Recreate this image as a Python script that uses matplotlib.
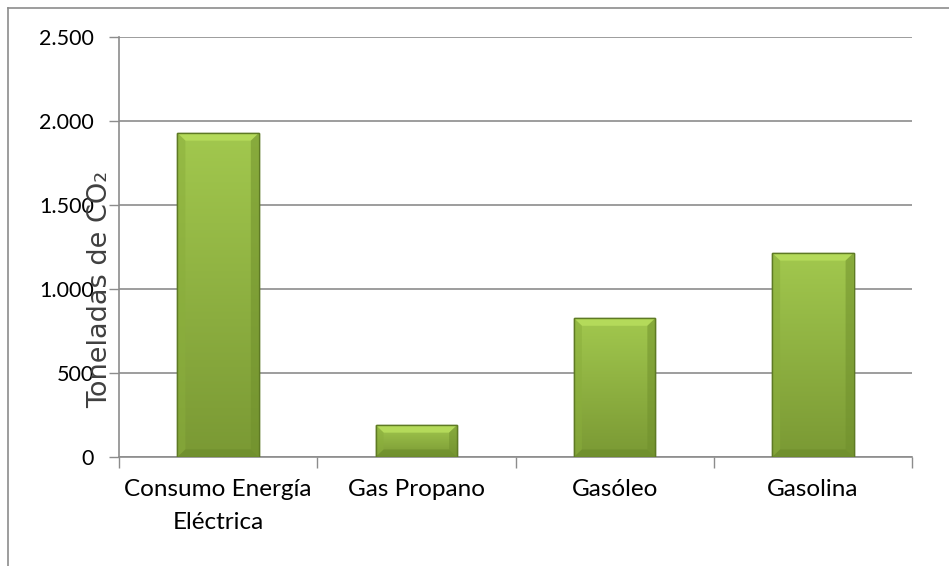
import matplotlib as mpl
mpl.use('Agg')
import matplotlib.pyplot as plt
import numpy as np
from matplotlib.patches import Polygon
from matplotlib.lines import Line2D

# datos
categorias = ['Consumo Energía\nEléctrica', 'Gas Propano', 'Gasóleo', 'Gasolina']
toneladas = [1928, 190, 826, 1214]
yticks = [0, 500, 1000, 1500, 2000, 2500]
ytick_labels = ['0', '500', '1.000', '1.500', '2.000', '2.500']

plt.rcParams['font.family'] = ['Lato', 'DejaVu Sans']

fig = plt.figure(figsize=(9.49, 5.66), dpi=100)
ax = fig.add_axes([119 / 949, 1 - 457 / 566, (912 - 119) / 949, (457 - 37) / 566])

x = np.arange(len(categorias))
ancho = 0.41
bars = ax.bar(x, toneladas, width=ancho, color='#93b944', edgecolor='#5e7a24',
              linewidth=1.0, zorder=3)

# degradado + bisel de cada barra
grad = np.linspace(0, 1, 256).reshape(-1, 1)
cmap = mpl.colors.LinearSegmentedColormap.from_list('verde', ['#7a9934', '#a2c84e'])
bev_y = 45
bev_x = 0.04
for b in bars:
    x0, y0 = b.get_x(), b.get_y()
    w, h = b.get_width(), b.get_height()
    im = ax.imshow(grad, extent=[x0, x0 + w, y0, y0 + h], origin='lower',
                   cmap=cmap, aspect='auto', zorder=3.5)
    im.set_clip_path(b)
    by = min(bev_y, h / 2)
    top = Polygon([[x0, y0 + h], [x0 + w, y0 + h], [x0 + w - bev_x, y0 + h - by],
                   [x0 + bev_x, y0 + h - by]], closed=True, facecolor='#b4da5a',
                  edgecolor='none', zorder=3.6)
    izq = Polygon([[x0, y0 + h], [x0 + bev_x, y0 + h - by], [x0 + bev_x, y0 + by],
                   [x0, y0]], closed=True, facecolor='#8aae3c', alpha=0.5,
                  edgecolor='none', zorder=3.6)
    der = Polygon([[x0 + w, y0 + h], [x0 + w - bev_x, y0 + h - by], [x0 + w - bev_x, y0 + by],
                   [x0 + w, y0]], closed=True, facecolor='#6f8f2c', alpha=0.5,
                  edgecolor='none', zorder=3.6)
    abajo = Polygon([[x0, y0], [x0 + w, y0], [x0 + w - bev_x, y0 + by],
                     [x0 + bev_x, y0 + by]], closed=True, facecolor='#6a8a2a', alpha=0.6,
                    edgecolor='none', zorder=3.6)
    for p in (top, izq, der, abajo):
        ax.add_patch(p)
    ax.add_patch(mpl.patches.Rectangle((x0, y0), w, h, fill=False, edgecolor='#5e7a24',
                                       linewidth=1.0, zorder=3.7))

ax.set_xlim(-0.5, len(categorias) - 0.5)
ax.set_ylim(0, 2500)
ax.set_yticks(yticks)
ax.set_yticklabels(ytick_labels)
ax.set_xticks(np.arange(-0.5, len(categorias), 1.0))
ax.set_xticklabels([])
ax.set_xticks(x, minor=True)
ax.set_xticklabels(categorias, minor=True, linespacing=1.7)

ax.tick_params(axis='y', which='major', length=7, width=1, color='#8c8c8c',
               labelsize=15.5, pad=11)
ax.tick_params(axis='x', which='major', length=8, width=1, color='#8c8c8c')
ax.tick_params(axis='x', which='minor', length=0, labelsize=17.5, pad=16)

ax.yaxis.grid(True, color='#8c8c8c', linewidth=1.2, zorder=0)
ax.set_axisbelow(True)
for s in ['top', 'right']:
    ax.spines[s].set_visible(False)
for s in ['left', 'bottom']:
    ax.spines[s].set_color('#8c8c8c')
    ax.spines[s].set_linewidth(1.2)

fig.text(100 / 949, 1 - 289 / 566, 'Toneladas de CO₂', rotation=90, ha='center', va='center',
         fontsize=19.5, family=['DejaVu Sans'], color='#404040', zorder=5)

# borde del gráfico
fig.add_artist(Line2D([8 / 949, 1], [1 - 8 / 566, 1 - 8 / 566], transform=fig.transFigure,
                      color='#8c8c8c', linewidth=1.2))
fig.add_artist(Line2D([8 / 949, 8 / 949], [0, 1 - 8 / 566], transform=fig.transFigure,
                      color='#8c8c8c', linewidth=1.2))

fig.savefig('out.png', dpi=100)
